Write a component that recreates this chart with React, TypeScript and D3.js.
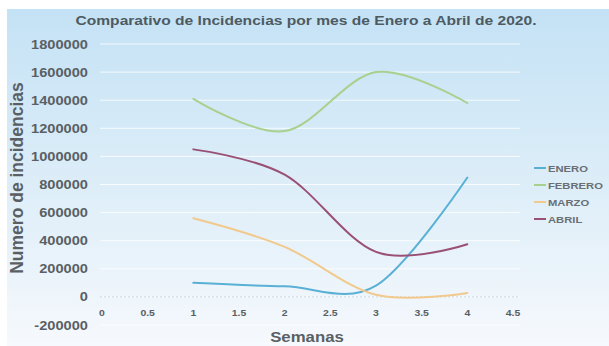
import React from "react";
import * as d3 from "d3";

const weeks = [1, 2, 3, 4];
const enero = [100000, 75000, 80000, 850000];
const febrero = [1410000, 1180000, 1600000, 1380000];
const marzo = [560000, 356000, 15000, 28000];
const abril = [1050000, 870000, 320000, 375000];
const seriesNames = ["ENERO", "FEBRERO", "MARZO", "ABRIL"];
const seriesColors = ["#58b0d4", "#a9d08e", "#f2c98c", "#9a5074"];
const yTicks = [-200000, 0, 200000, 400000, 600000, 800000, 1000000, 1200000, 1400000, 1600000, 1800000];
const xTicks = [0, 0.5, 1, 1.5, 2, 2.5, 3, 3.5, 4, 4.5];

const font = "Arial, 'Liberation Sans', sans-serif";

function SText(props: {
  x: number;
  y: number;
  sx?: number;
  size: number;
  anchor?: string;
  fill?: string;
  children: React.ReactNode;
}) {
  const sx = props.sx ?? 1;
  return (
    <text
      transform={`translate(${props.x},${props.y}) scale(${sx},1)`}
      textAnchor={props.anchor ?? "start"}
      fontFamily={font}
      fontWeight="bold"
      fontSize={props.size}
      fill={props.fill ?? "#5a5f64"}
    >
      {props.children}
    </text>
  );
}

export default function App() {
  const W = 609, H = 346;
  const x = d3.scaleLinear().domain([0, 4.5]).range([102, 513]);
  const y = d3.scaleLinear().domain([-200000, 1800000]).range([325, 44]);
  const allSeries = [enero, febrero, marzo, abril];
  const line = d3
    .line<number>()
    .x((_, i) => x(weeks[i]))
    .y((d) => y(d))
    .curve(d3.curveCardinal.tension(0));
  return (
    <svg width={W} height={H} style={{ position: "absolute", left: 0, top: 0 }}>
      <defs>
        <linearGradient id="bg" x1="0" y1="0" x2="0" y2="1">
          <stop offset="0" stopColor="#c4e2f5" />
          <stop offset="0.5" stopColor="#dcedf8" />
          <stop offset="1" stopColor="#f6f9fd" />
        </linearGradient>
      </defs>
      <rect x={0} y={0} width={W} height={H} fill="#ffffff" />
      <rect x={7} y={9} width={W - 7} height={H - 9} fill="url(#bg)" />
      <SText x={306} y={25} sx={1.2} size={13} anchor="middle" fill="#4e5a62">
        Comparativo de Incidencias por mes de Enero a Abril de 2020.
      </SText>
      {yTicks.map((t) => (
        <line key={"g" + t} x1={100} x2={520} y1={y(t)} y2={y(t)} stroke="#ffffff" strokeOpacity={0.8} strokeWidth={1} />
      ))}
      <line x1={100} x2={520} y1={y(0)} y2={y(0)} stroke="#c8d4dc" strokeWidth={1} strokeDasharray="2,2" />
      {yTicks.map((t) => (
        <SText key={"y" + t} x={88} y={y(t) + 4.5} sx={1.22} size={12} anchor="end">
          {t}
        </SText>
      ))}
      {xTicks.map((t) => (
        <SText key={"x" + t} x={x(t)} y={316} sx={1.1} size={9.5} anchor="middle">
          {t}
        </SText>
      ))}
      <SText x={307} y={342} sx={1.2} size={14} anchor="middle">
        Semanas
      </SText>
      <text
        transform={`translate(23,178) rotate(-90)`}
        textAnchor="middle"
        fontFamily={font}
        fontWeight="bold"
        fontSize={17.5}
        fill="#5a5f64"
      >
        Numero de incidencias
      </text>
      {allSeries.map((s, i) => (
        <path key={"s" + i} d={line(s) || ""} fill="none" stroke={seriesColors[i]} strokeWidth={2} strokeLinecap="round" />
      ))}
      {seriesNames.map((n, i) => (
        <g key={"l" + n}>
          <line x1={534} x2={546} y1={168 + i * 17} y2={168 + i * 17} stroke={seriesColors[i]} strokeWidth={2} />
          <SText x={548} y={171.5 + i * 17} sx={1.25} size={9} fill="#6a6f74">
            {n}
          </SText>
        </g>
      ))}
    </svg>
  );
}
